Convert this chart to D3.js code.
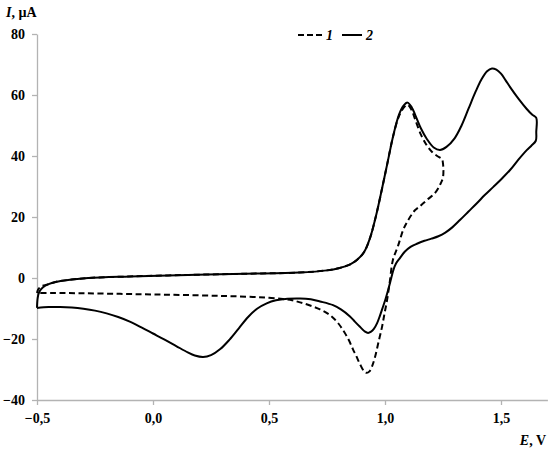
<!DOCTYPE html>
<html>
<head>
<meta charset="utf-8">
<script src="https://cdn.jsdelivr.net/npm/d3@7"></script>
<style>
  html, body { margin: 0; padding: 0; background: #fff; }
  svg { display: block; }
  text { font-family: "Liberation Serif", "Times New Roman", serif; font-weight: bold; fill: #000; }
</style>
</head>
<body>
<svg id="chart" width="550" height="452"></svg>
<script>
// ---- Data (E in V, I in µA) ----
const xTicks = [-0.5, 0.0, 0.5, 1.0, 1.5];
const xTickLabels = ["−0,5", "0,0", "0,5", "1,0", "1,5"];
const yTicks = [-40, -20, 0, 20, 40, 60, 80];
const yTickLabels = ["−40", "−20", "0", "20", "40", "60", "80"];
const seriesNames = ["1", "2"];

// curve 1 (dashed): forward scan then reverse scan
const curve1E = [-0.5,-0.495,-0.485,-0.47,-0.45,-0.42,-0.35,-0.28,-0.1,0.15,0.4,0.63,0.75,0.8,0.85,0.88,0.91,0.935,0.96,0.985,1.01,1.035,1.06,1.08,1.097,1.115,1.13,1.155,1.18,1.203,1.225,1.245,
  1.25,1.25,1.24,1.216,1.181,1.15,1.129,1.108,1.09,1.078,1.056,1.034,1.021,1.009,0.998,0.987,0.972,0.957,0.945,0.933,0.922,0.91,0.892,0.875,0.862,0.845,0.825,0.8,0.776,0.75,0.72,0.677,0.634,0.6,0.56,0.5,0.431,0.3,0.147,0.0,-0.142,-0.3,-0.431,-0.5];
const curve1I = [-4.9,-3.8,-2.9,-2.4,-2.0,-1.3,-0.5,0.0,0.5,1.0,1.4,1.8,2.5,3.2,4.5,6.0,8.5,13,20,28.5,37.5,46.5,53,55.8,56.8,55,52,47,43.5,41.3,40,39,
  37.5,33,31,27.9,25.6,23.5,22.2,20,17.6,15.7,10.5,5.9,-1.0,-7.2,-11.6,-16.1,-21,-25.9,-28.8,-30.6,-31.1,-30.6,-28.2,-25.4,-23.4,-20.5,-17.8,-15.0,-13.0,-11.5,-10.3,-9.0,-8.0,-7.3,-6.9,-6.5,-6.2,-5.9,-5.6,-5.4,-5.2,-5.0,-4.9,-4.9];

// curve 2 (solid): forward scan then reverse scan
const curve2E = [-0.5,-0.497,-0.49,-0.474,-0.45,-0.42,-0.35,-0.28,-0.1,0.15,0.4,0.63,0.75,0.8,0.85,0.88,0.91,0.935,0.96,0.985,1.01,1.035,1.06,1.08,1.097,1.115,1.13,1.155,1.181,1.21,1.237,1.265,1.3,1.33,1.36,1.39,1.415,1.44,1.461,1.48,1.5,1.52,1.54,1.575,1.61,1.635,1.652,
  1.652,1.65,1.63,1.612,1.575,1.539,1.5,1.466,1.43,1.397,1.36,1.323,1.29,1.26,1.23,1.2,1.17,1.14,1.11,1.085,1.065,1.048,1.036,1.027,1.015,1.003,0.991,0.978,0.966,0.952,0.94,0.927,0.914,0.892,0.87,0.849,0.81,0.776,0.72,0.68,0.634,0.58,0.53,0.49,0.45,0.41,0.37,0.33,0.29,0.25,0.216,0.18,0.15,0.1,0.05,0.0,-0.05,-0.1,-0.15,-0.2,-0.25,-0.3,-0.35,-0.4,-0.45,-0.5];
const curve2I = [-9.8,-6.5,-4.5,-3.0,-2.0,-1.3,-0.5,0.0,0.5,1.0,1.4,1.8,2.5,3.2,4.5,6.0,8.5,13,20,28.5,37.5,46.5,53.5,56.5,57.5,56,53.5,49,45.5,42.8,42,43,45.8,50,55.5,61,65,67.8,68.7,68.3,67,64.8,62.5,58.8,55.5,53.5,52.5,
  48,45,43.3,42,38.8,35.4,32.3,29.8,27.2,24.6,21.8,19.0,16.6,14.9,13.7,12.9,12.2,11.3,10.2,8.6,6.6,4.8,2.6,0,-3.5,-6.7,-9.5,-12.4,-14.8,-16.7,-17.6,-18.0,-17.6,-16.0,-14.3,-12.6,-10.3,-8.9,-7.7,-7.0,-6.7,-6.8,-7.3,-8.3,-10.0,-12.8,-16.5,-20.2,-23.3,-25.3,-25.9,-25.4,-24.4,-22.3,-20.2,-18.2,-16.2,-14.3,-12.8,-11.6,-10.7,-10.1,-9.7,-9.5,-9.5,-9.8];

// ---- Drawing ----
const svg = d3.select("#chart");
const x = d3.scaleLinear().domain([-0.5, 1.7]).range([37, 547.4]);
const y = d3.scaleLinear().domain([-40, 80]).range([400, 34]);
const axisColor = "#b3b3b3";

// x axis
const xAxis = svg.append("g").attr("transform", `translate(0,${y(-40)})`)
  .call(d3.axisBottom(x).tickValues(xTicks).tickSize(5).tickSizeOuter(0)
    .tickFormat((d, i) => xTickLabels[i]));
xAxis.select(".domain").attr("stroke", axisColor).attr("stroke-width", 1.3);
xAxis.selectAll(".tick line").attr("stroke", axisColor).attr("stroke-width", 1.3);
xAxis.selectAll(".tick text").attr("font-size", 14).attr("dy", 0).attr("y", 23)
  .style("font-family", '"Liberation Serif", serif').style("font-weight", "bold").attr("fill", "#000");

// y axis
const yAxis = svg.append("g").attr("transform", `translate(${x(-0.5)},0)`)
  .call(d3.axisLeft(y).tickValues(yTicks).tickSize(5).tickSizeOuter(0)
    .tickFormat((d, i) => yTickLabels[i]));
yAxis.select(".domain").attr("stroke", axisColor).attr("stroke-width", 1.3);
yAxis.selectAll(".tick line").attr("stroke", axisColor).attr("stroke-width", 1.3);
yAxis.selectAll(".tick text").attr("font-size", 14).attr("x", -12).attr("dy", "0.35em")
  .style("font-family", '"Liberation Serif", serif').style("font-weight", "bold").attr("fill", "#000");

// axis titles
const yt = svg.append("text").attr("x", 6).attr("y", 17).attr("font-size", 14);
yt.append("tspan").attr("font-style", "italic").text("I");
yt.append("tspan").text(", µA");
const xt = svg.append("text").attr("x", 546).attr("y", 445).attr("font-size", 14).attr("text-anchor", "end");
xt.append("tspan").attr("font-style", "italic").text("E");
xt.append("tspan").text(", V");

// curves
const line = d3.line().x(d => x(d[0])).y(d => y(d[1])).curve(d3.curveCatmullRom.alpha(0.5));
const c1 = curve1E.map((e, i) => [e, curve1I[i]]);
const c2 = curve2E.map((e, i) => [e, curve2I[i]]);

svg.append("path").attr("d", line(c2)).attr("fill", "none").attr("stroke", "#000")
  .attr("stroke-width", 2).attr("stroke-linejoin", "round");
svg.append("path").attr("d", line(c1)).attr("fill", "none").attr("stroke", "#000")
  .attr("stroke-width", 2).attr("stroke-dasharray", "6,3.5");

// legend
const lg = svg.append("g");
lg.append("line").attr("x1", 298).attr("x2", 322).attr("y1", 35).attr("y2", 35)
  .attr("stroke", "#000").attr("stroke-width", 2).attr("stroke-dasharray", "6,3");
lg.append("text").attr("x", 326).attr("y", 40).attr("font-size", 14).attr("font-style", "italic").text(seriesNames[0]);
lg.append("line").attr("x1", 342).attr("x2", 362).attr("y1", 35).attr("y2", 35)
  .attr("stroke", "#000").attr("stroke-width", 2);
lg.append("text").attr("x", 366).attr("y", 40).attr("font-size", 14).attr("font-style", "italic").text(seriesNames[1]);
</script>
</body>
</html>
